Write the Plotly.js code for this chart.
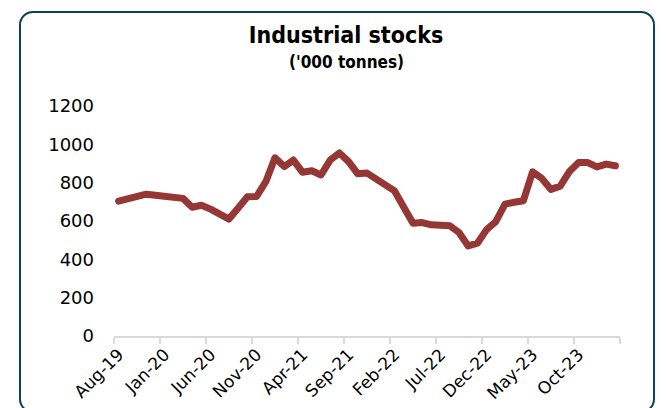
<!DOCTYPE html>
<html>
<head>
<meta charset="utf-8">
<script src="https://cdn.plot.ly/plotly-3.0.1.min.js"></script>
<style>
  html, body { margin: 0; padding: 0; background: #ffffff; }
  #wrap { position: relative; width: 666px; height: 408px; overflow: hidden; }
  #frame { position: absolute; left: 19px; top: 11px; width: 636px; height: 402px;
           box-sizing: border-box; border: 2.5px solid #0f405e; border-radius: 14px; }
  #chart { position: absolute; left: 0; top: 0; width: 666px; height: 408px; }
  #chart .scatterlayer path.js-line { stroke-linejoin: round; stroke-linecap: round; }
</style>
</head>
<body>
<div id="wrap">
  <div id="frame"></div>
  <div id="chart"></div>
</div>
<script>
// Months (Aug-19 .. Feb-24)
const months = [
  "Aug-19","Sep-19","Oct-19","Nov-19","Dec-19",
  "Jan-20","Feb-20","Mar-20","Apr-20","May-20",
  "Jun-20","Jul-20","Aug-20","Sep-20","Oct-20",
  "Nov-20","Dec-20","Jan-21","Feb-21","Mar-21",
  "Apr-21","May-21","Jun-21","Jul-21","Aug-21",
  "Sep-21","Oct-21","Nov-21","Dec-21","Jan-22",
  "Feb-22","Mar-22","Apr-22","May-22","Jun-22",
  "Jul-22","Aug-22","Sep-22","Oct-22","Nov-22",
  "Dec-22","Jan-23","Feb-23","Mar-23","Apr-23",
  "May-23","Jun-23","Jul-23","Aug-23","Sep-23",
  "Oct-23","Nov-23","Dec-23","Jan-24","Feb-24"
];

// Industrial stocks, '000 tonnes
const stocks = [
  704, 716, 728, 740, 734,
  728, 722, 718, 672, 682,
  662, 636, 610, 668, 726,
  728, 805, 930, 884, 918,
  854, 862, 840, 918, 955,
  910, 846, 850, 818, 780,
  757, 672, 588, 592, 580,
  578, 575, 540, 470, 484,
  555, 597, 688, 698, 706,
  857, 822, 765, 782, 858,
  905, 905, 882, 897, 888
];

const yTicks = [0, 200, 400, 600, 800, 1000, 1200];

const chartTitle = "Industrial stocks";
const chartSubtitle = "('000 tonnes)";

const trace = {
  type: "scatter",
  mode: "lines",
  x: months,
  y: stocks,
  line: { color: "#953735", width: 7 },
  hoverinfo: "x+y"
};

const layout = {
  width: 666,
  height: 408,
  margin: { l: 114, r: 46, t: 106, b: 72, pad: 0 },
  paper_bgcolor: "rgba(0,0,0,0)",
  plot_bgcolor: "rgba(0,0,0,0)",
  showlegend: false,
  title: {
    text: chartTitle,
    font: { family: "DejaVu Sans Condensed", size: 23, color: "#000000", weight: "bold" },
    xref: "paper", x: 0.4585, xanchor: "center",
    yref: "container", y: 1 - 35 / 408, yanchor: "middle"
  },
  annotations: [{
    text: chartSubtitle,
    xref: "paper", yref: "paper",
    x: 0.4585, y: (336 - 62) / 230,
    xanchor: "center", yanchor: "middle",
    showarrow: false,
    font: { family: "DejaVu Sans Condensed", size: 17, color: "#000000", weight: "bold" }
  }],
  xaxis: {
    type: "category",
    range: [-0.5, months.length - 0.5],
    tickmode: "linear",
    tick0: 0,
    dtick: 5,
    tickson: "boundaries",
    ticks: "outside",
    ticklen: 6,
    tickwidth: 1.5,
    tickcolor: "#d9d9d9",
    showline: true,
    linecolor: "#d9d9d9",
    linewidth: 2,
    showgrid: false,
    zeroline: false,
    tickangle: -45,
    tickfont: { family: "DejaVu Sans", size: 17, color: "#000000" },
    fixedrange: true
  },
  yaxis: {
    range: [0, 1200],
    tickmode: "array",
    tickvals: yTicks,
    ticktext: yTicks.map(String),
    showgrid: false,
    zeroline: false,
    showline: false,
    ticks: "",
    ticklabelstandoff: 19,
    tickfont: { family: "DejaVu Sans", size: 18, color: "#000000" },
    fixedrange: true
  }
};

Plotly.newPlot("chart", [trace], layout, { displayModeBar: false, staticPlot: true });
</script>
</body>
</html>
